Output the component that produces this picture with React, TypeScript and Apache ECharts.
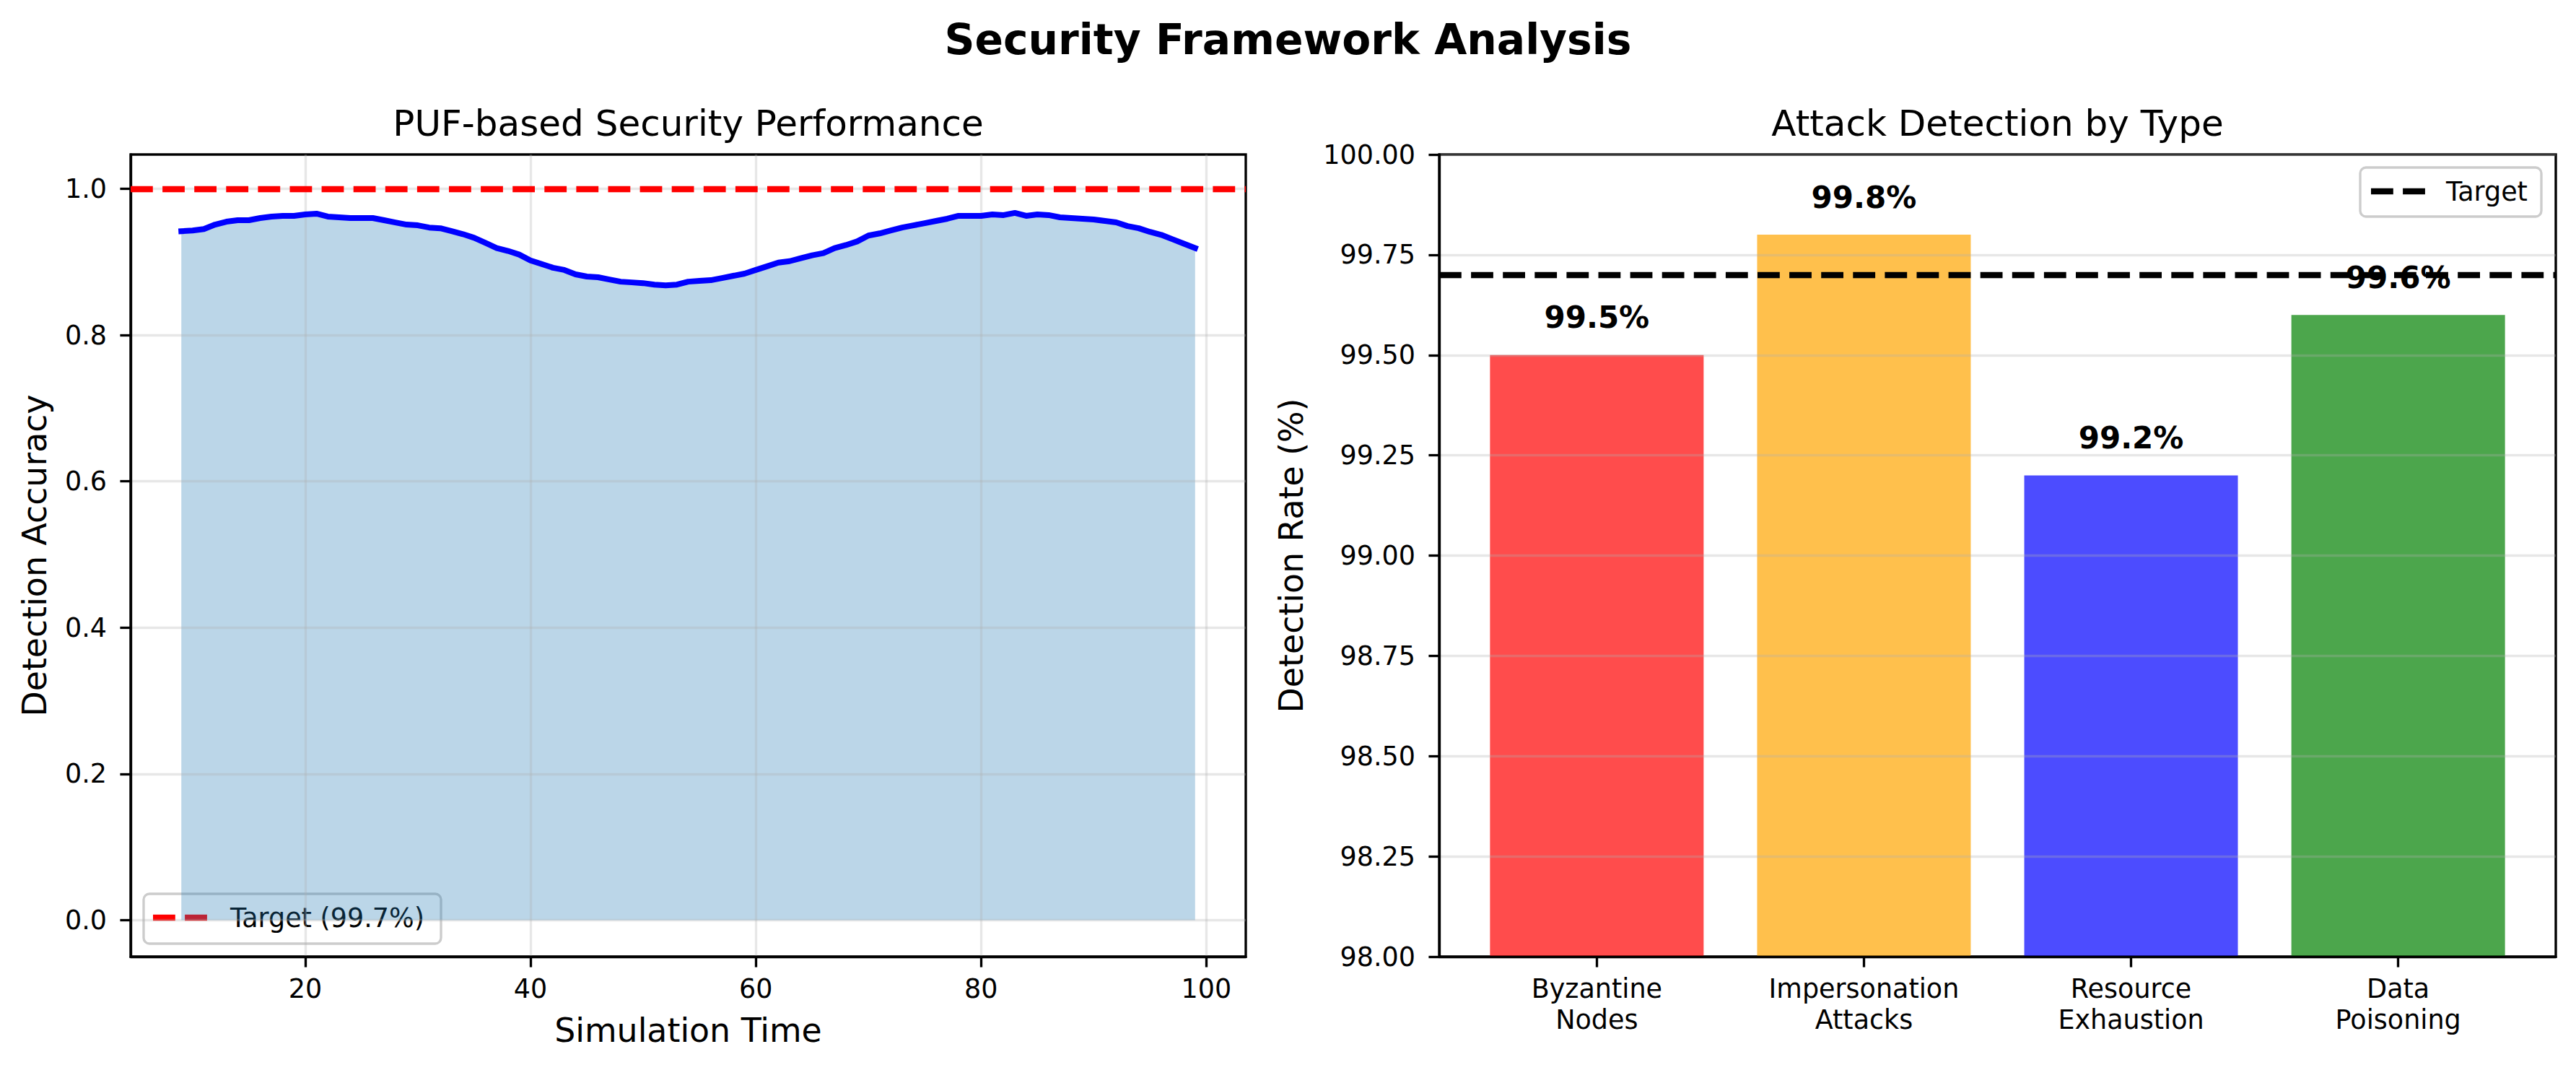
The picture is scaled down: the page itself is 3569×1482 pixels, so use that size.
import React, { useEffect, useRef } from "react";
import * as echarts from "echarts";

// ---------- data ----------
const TIME = [
  9, 10, 11, 12, 13, 14, 15, 16, 17, 18, 19, 20, 21, 22, 23, 24, 25, 26, 27, 28,
  29, 30, 31, 32, 33, 34, 35, 36, 37, 38, 39, 40, 41, 42, 43, 44, 45, 46, 47, 48,
  49, 50, 51, 52, 53, 54, 55, 56, 57, 58, 59, 60, 61, 62, 63, 64, 65, 66, 67, 68,
  69, 70, 71, 72, 73, 74, 75, 76, 77, 78, 79, 80, 81, 82, 83, 84, 85, 86, 87, 88,
  89, 90, 91, 92, 93, 94, 95, 96, 97, 98, 99,
];
const ACCURACY = [
  0.942, 0.943, 0.945, 0.951, 0.955, 0.957, 0.957, 0.96, 0.962, 0.963, 0.963,
  0.965, 0.966, 0.962, 0.961, 0.96, 0.96, 0.96, 0.957, 0.954, 0.951, 0.95,
  0.947, 0.946, 0.942, 0.938, 0.933, 0.926, 0.919, 0.915, 0.91, 0.902, 0.897,
  0.892, 0.889, 0.883, 0.88, 0.879, 0.876, 0.873, 0.872, 0.871, 0.869, 0.868,
  0.869, 0.873, 0.874, 0.875, 0.878, 0.881, 0.884, 0.889, 0.894, 0.899, 0.901,
  0.905, 0.909, 0.912, 0.919, 0.923, 0.928, 0.936, 0.939, 0.943, 0.947, 0.95,
  0.953, 0.956, 0.959, 0.963, 0.963, 0.963, 0.965, 0.964, 0.967, 0.963, 0.965,
  0.964, 0.961, 0.96, 0.959, 0.958, 0.956, 0.954, 0.949, 0.946, 0.941, 0.937,
  0.931, 0.925, 0.919,
];
const TARGET_ACCURACY = 0.997;
const LEFT_X_TICKS = [20, 40, 60, 80, 100];
const LEFT_Y_TICKS = [0, 0.2, 0.4, 0.6, 0.8, 1.0];

const ATTACK_TYPES = [
  "Byzantine\nNodes",
  "Impersonation\nAttacks",
  "Resource\nExhaustion",
  "Data\nPoisoning",
];
const DETECTION_RATES = [99.5, 99.8, 99.2, 99.6];
const BAR_COLORS = [
  "rgba(255,0,0,0.7)",
  "rgba(255,165,0,0.7)",
  "rgba(0,0,255,0.7)",
  "rgba(0,128,0,0.7)",
];
const TARGET_RATE = 99.7;
const BAR_POSITIONS = [0, 1, 2, 3];

// ---------- styling ----------
const FONT = "DejaVu Sans";
const LW = 3.33; // 0.8pt at 300dpi
const TICK_FS = 36.5;
const GRID_COLOR = "rgba(176,176,176,0.3)";
const DASH = [30.8, 13.3];

const axisCommon = {
  z: 1.5,
  axisLine: { show: true, onZero: false, lineStyle: { color: "#000", width: LW } },
  axisLabel: {
    fontSize: TICK_FS,
    fontFamily: FONT,
    color: "#000",
    lineHeight: 43,
  },
};

export default function App() {
  const ref = useRef<HTMLDivElement>(null);

  useEffect(() => {
    if (!ref.current) return;
    const chart = echarts.init(ref.current, null, { renderer: "svg" });
    const lineData = TIME.map((t, i) => [t, ACCURACY[i]]);

    const option: any = {
      animation: false,
      backgroundColor: "#ffffff",
      grid: [
        {
          left: 181, top: 214, width: 1545, height: 1111,
          show: true, borderColor: "#000", borderWidth: LW, backgroundColor: "transparent",
        },
        {
          left: 1994, top: 214, width: 1547, height: 1111,
          show: true, borderColor: "#000", borderWidth: LW, backgroundColor: "transparent",
        },
      ],
      xAxis: [
        {
          ...axisCommon,
          gridIndex: 0,
          type: "value",
          min: 4.5,
          max: 103.5,
          axisTick: { show: true, customValues: LEFT_X_TICKS, length: 14.6, lineStyle: { color: "#000", width: LW } },
          axisLabel: { ...axisCommon.axisLabel, customValues: LEFT_X_TICKS, margin: 22.5 },
          splitLine: { show: true, lineStyle: { color: GRID_COLOR, width: LW } },
        },
        {
          ...axisCommon,
          gridIndex: 1,
          type: "value",
          min: -0.59,
          max: 3.59,
          axisTick: { show: true, customValues: BAR_POSITIONS, length: 14.6, lineStyle: { color: "#000", width: LW } },
          axisLabel: {
            ...axisCommon.axisLabel,
            customValues: BAR_POSITIONS,
            margin: 22.5,
            formatter: (v: number) => ATTACK_TYPES[Math.round(v)] ?? "",
          },
          splitLine: { show: false },
        },
      ],
      yAxis: [
        {
          ...axisCommon,
          gridIndex: 0,
          type: "value",
          min: -0.04985,
          max: 1.04685,
          axisTick: { show: true, customValues: LEFT_Y_TICKS, length: 14.6, lineStyle: { color: "#000", width: LW } },
          axisLabel: {
            ...axisCommon.axisLabel,
            customValues: LEFT_Y_TICKS,
            margin: 33,
            formatter: (v: number) => v.toFixed(1),
          },
          splitLine: { show: true, lineStyle: { color: GRID_COLOR, width: LW } },
        },
        {
          ...axisCommon,
          gridIndex: 1,
          type: "value",
          min: 98,
          max: 100,
          interval: 0.25,
          axisTick: { show: true, length: 14.6, lineStyle: { color: "#000", width: LW } },
          axisLabel: {
            ...axisCommon.axisLabel,
            margin: 33,
            formatter: (v: number) => v.toFixed(2),
          },
          splitLine: { show: true, lineStyle: { color: GRID_COLOR, width: LW } },
        },
      ],
      series: [
        {
          type: "line",
          xAxisIndex: 0,
          yAxisIndex: 0,
          data: lineData,
          symbol: "none",
          silent: true,
          z: 1,
          lineStyle: { width: 0, opacity: 0 },
          areaStyle: { color: "#1f77b4", opacity: 0.3, origin: 0 },
        },
        {
          type: "line",
          xAxisIndex: 0,
          yAxisIndex: 0,
          data: lineData,
          symbol: "none",
          silent: true,
          z: 3,
          lineStyle: { color: "#0000ff", width: 8, cap: "square", join: "round" },
          markLine: {
            silent: true,
            symbol: ["none", "none"],
            label: { show: false },
            lineStyle: { color: "#ff0000", width: 8.33, type: DASH, opacity: 1 },
            emphasis: { disabled: true },
            data: [{ yAxis: TARGET_ACCURACY }],
          },
        },
        {
          type: "bar",
          xAxisIndex: 1,
          yAxisIndex: 1,
          barWidth: 296,
          z: 1,
          silent: true,
          data: DETECTION_RATES.map((v, i) => ({
            value: [BAR_POSITIONS[i], v],
            itemStyle: { color: BAR_COLORS[i] },
          })),
          label: {
            show: true,
            position: "top",
            distance: 31,
            formatter: (p: any) => `${p.value[1].toFixed(1)}%`,
            fontSize: 42,
            fontWeight: "bold",
            fontFamily: FONT,
            color: "#000",
          },
          markLine: {
            silent: true,
            symbol: ["none", "none"],
            label: { show: false },
            lineStyle: { color: "#000000", width: 8.33, type: DASH, opacity: 1 },
            emphasis: { disabled: true },
            data: [{ yAxis: TARGET_RATE }],
          },
        },
      ],
      graphic: [
        {
          type: "text", x: 1784.5, y: 55, z: 100,
          style: { text: "Security Framework Analysis", fontSize: 58.3, fontWeight: "bold", fontFamily: FONT, fill: "#000", align: "center", verticalAlign: "middle" },
        },
        {
          type: "text", x: 953.5, y: 170.7, z: 100,
          style: { text: "PUF-based Security Performance", fontSize: 50, fontFamily: FONT, fill: "#000", align: "center", verticalAlign: "middle" },
        },
        {
          type: "text", x: 2767.5, y: 170.7, z: 100,
          style: { text: "Attack Detection by Type", fontSize: 50, fontFamily: FONT, fill: "#000", align: "center", verticalAlign: "middle" },
        },
        {
          type: "text", x: 953.5, y: 1427, z: 100,
          style: { text: "Simulation Time", fontSize: 45.8, fontFamily: FONT, fill: "#000", align: "center", verticalAlign: "middle" },
        },
        {
          type: "text", x: 48, y: 769.5, rotation: Math.PI / 2, z: 100,
          style: { text: "Detection Accuracy", fontSize: 45.8, fontFamily: FONT, fill: "#000", align: "center", verticalAlign: "middle" },
        },
        {
          type: "text", x: 1789, y: 769.5, rotation: Math.PI / 2, z: 100,
          style: { text: "Detection Rate (%)", fontSize: 45.8, fontFamily: FONT, fill: "#000", align: "center", verticalAlign: "middle" },
        },
        // left legend
        {
          type: "group", z: 100,
          children: [
            {
              type: "rect", shape: { x: 199, y: 1238, width: 412, height: 69, r: 8 },
              style: { fill: "rgba(255,255,255,0.8)", stroke: "#cccccc", lineWidth: LW },
            },
            {
              type: "line", shape: { x1: 212, y1: 1271, x2: 287, y2: 1271 },
              style: { stroke: "#ff0000", lineWidth: 8.33, lineDash: DASH },
            },
            {
              type: "text", x: 319, y: 1271,
              style: { text: "Target (99.7%)", fontSize: TICK_FS, fontFamily: FONT, fill: "#000", align: "left", verticalAlign: "middle" },
            },
          ],
        },
        // right legend
        {
          type: "group", z: 100,
          children: [
            {
              type: "rect", shape: { x: 3270, y: 232, width: 251, height: 68, r: 8 },
              style: { fill: "rgba(255,255,255,0.8)", stroke: "#cccccc", lineWidth: LW },
            },
            {
              type: "line", shape: { x1: 3285, y1: 265, x2: 3360, y2: 265 },
              style: { stroke: "#000000", lineWidth: 8.33, lineDash: DASH },
            },
            {
              type: "text", x: 3389, y: 265,
              style: { text: "Target", fontSize: TICK_FS, fontFamily: FONT, fill: "#000", align: "left", verticalAlign: "middle" },
            },
          ],
        },
      ],
    };

    chart.setOption(option);
    return () => chart.dispose();
  }, []);

  return (
    <div
      ref={ref}
      style={{ position: "fixed", left: 0, top: 0, width: 3569, height: 1482, background: "#fff" }}
    />
  );
}
